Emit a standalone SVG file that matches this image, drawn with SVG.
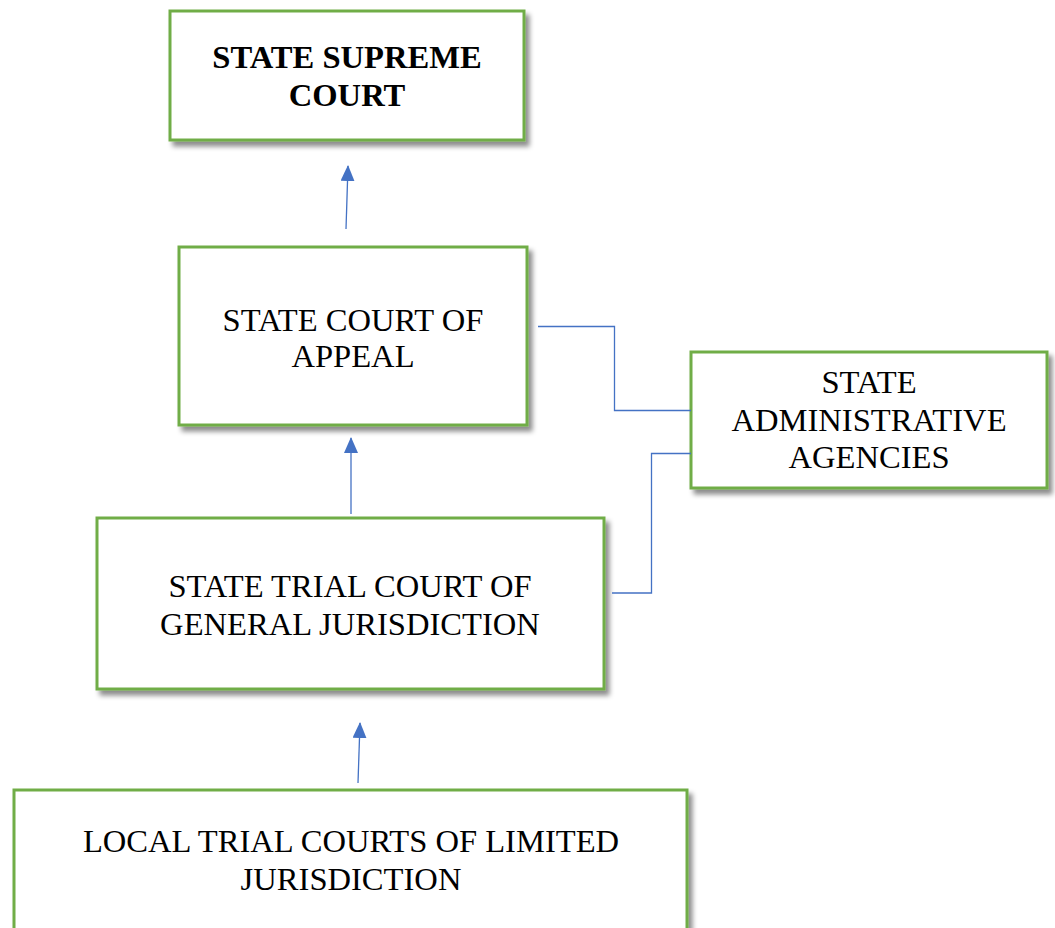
<svg xmlns="http://www.w3.org/2000/svg" width="1055" height="928" viewBox="0 0 1055 928">
<style>
.box{fill:#fff;stroke:#70AD47;stroke-width:3;filter:url(#sh)}
.t{font-family:"Liberation Serif","Times New Roman",serif;font-size:32.6px;fill:#000;text-anchor:middle}
.b{font-weight:bold}
.c{fill:none;stroke:#4472C4;stroke-width:1.3}
</style>
<defs>
<filter id="sh" x="-10%" y="-10%" width="125%" height="130%">
<feDropShadow dx="4" dy="5" stdDeviation="2.5" flood-color="#000" flood-opacity="0.45"/>
</filter>
<marker id="ah" viewBox="0 0 16 14" refX="15" refY="7" markerWidth="16" markerHeight="14" markerUnits="userSpaceOnUse" orient="auto">
<path d="M0,0 L16,7 L0,14 Z" fill="#4472C4"/>
</marker>
</defs>
<g id="supreme">
<rect class="box" x="170" y="11" width="354" height="129"/>
<text class="t b" x="347" y="68">STATE SUPREME</text>
<text class="t b" x="347" y="106">COURT</text>
</g>
<g id="appeal">
<rect class="box" x="179" y="247" width="348" height="178"/>
<text class="t" x="353" y="331">STATE COURT OF</text>
<text class="t" x="353" y="367">APPEAL</text>
</g>
<g id="trial">
<rect class="box" x="97" y="518" width="507" height="171"/>
<text class="t" x="350" y="597">STATE TRIAL COURT OF</text>
<text class="t" x="350" y="635">GENERAL JURISDICTION</text>
</g>
<g id="local">
<rect class="box" x="14" y="790" width="673" height="150"/>
<text class="t" x="351" y="852">LOCAL TRIAL COURTS OF LIMITED</text>
<text class="t" x="351" y="890">JURISDICTION</text>
</g>
<g id="agencies">
<rect class="box" x="691" y="352" width="356" height="136"/>
<text class="t" x="869" y="393">STATE</text>
<text class="t" x="869" y="431">ADMINISTRATIVE</text>
<text class="t" x="869" y="468">AGENCIES</text>
</g>
<g id="connectors">
<path class="c" d="M346,229 L348,166" marker-end="url(#ah)"/>
<path class="c" d="M351,514 L351,438" marker-end="url(#ah)"/>
<path class="c" d="M358,783 L360,723" marker-end="url(#ah)"/>
<path class="c" d="M538,326.5 H614.5 V410.5 H691"/>
<path class="c" d="M691,453.5 H651.5 V593 H612"/>
</g>
</svg>
